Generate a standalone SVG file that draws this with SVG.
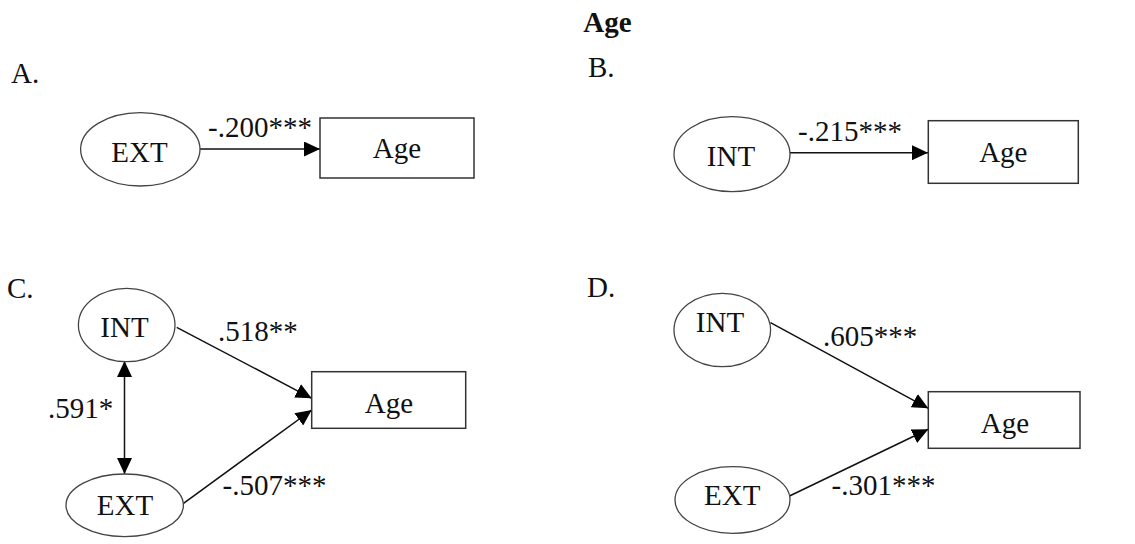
<svg xmlns="http://www.w3.org/2000/svg" width="1135" height="544" viewBox="0 0 1135 544">
  <style>
    text { font-family: "Liberation Serif", "Times New Roman", serif; font-size: 29px; fill: #111; }
    .title { font-weight: bold; }
    .mid { text-anchor: middle; }
    .node ellipse { fill: #fff; stroke: #444; stroke-width: 1.3; }
    .node rect { fill: #fff; stroke: #333; stroke-width: 1.5; }
    .edge { fill: none; stroke: #111; stroke-width: 1.5; }
  </style>
  <defs>
    <marker id="head" viewBox="0 0 16 15" refX="16" refY="7.5" markerWidth="16" markerHeight="15" markerUnits="userSpaceOnUse" orient="auto-start-reverse">
      <path d="M0,0 L16,7.5 L0,15 Z" fill="#000"/>
    </marker>
  </defs>
  <rect width="1135" height="544" fill="#fff"/>

  <!-- headings -->
  <text class="title mid" x="607.5" y="32">Age</text>
  <text x="11" y="83">A.</text>
  <text x="588" y="77">B.</text>
  <text x="7" y="298">C.</text>
  <text x="587" y="297">D.</text>

  <!-- connectors -->
  <g id="connectors">
    <line class="edge" x1="200" y1="149" x2="320" y2="149" marker-end="url(#head)"/>
    <line class="edge" x1="790" y1="152.7" x2="928" y2="152.7" marker-end="url(#head)"/>
    <line class="edge" x1="124.5" y1="361" x2="124.5" y2="474" marker-start="url(#head)" marker-end="url(#head)"/>
    <line class="edge" x1="176.7" y1="327.3" x2="311.7" y2="398.3" marker-end="url(#head)"/>
    <line class="edge" x1="183.5" y1="503.3" x2="311.7" y2="410" marker-end="url(#head)"/>
    <line class="edge" x1="770.5" y1="322.7" x2="928.3" y2="408.3" marker-end="url(#head)"/>
    <line class="edge" x1="789.5" y1="496" x2="928.3" y2="429.3" marker-end="url(#head)"/>
  </g>

  <!-- connector labels -->
  <g id="labels">
    <text x="208" y="137">-.200***</text>
    <text x="798" y="141">-.215***</text>
    <text x="48" y="418">.591*</text>
    <text x="218" y="341">.518**</text>
    <text x="222.5" y="495">-.507***</text>
    <text x="823" y="346">.605***</text>
    <text x="831.5" y="495">-.301***</text>
  </g>

  <!-- panel A -->
  <g id="a-ext" class="node">
    <ellipse cx="140.3" cy="149.3" rx="59.7" ry="36.7"/>
    <text class="mid" x="139.5" y="162">EXT</text>
  </g>
  <g id="a-age" class="node">
    <rect x="320" y="118" width="154" height="60"/>
    <text class="mid" x="397" y="158">Age</text>
  </g>

  <!-- panel B -->
  <g id="b-int" class="node">
    <ellipse cx="732" cy="154.2" rx="58" ry="37.5"/>
    <text class="mid" x="731" y="165.5">INT</text>
  </g>
  <g id="b-age" class="node">
    <rect x="928.3" y="120.7" width="150" height="62.6"/>
    <text class="mid" x="1003.3" y="161.7">Age</text>
  </g>

  <!-- panel C -->
  <g id="c-int" class="node">
    <ellipse cx="126.7" cy="325" rx="48.3" ry="36.7"/>
    <text class="mid" x="124.5" y="336.5">INT</text>
  </g>
  <g id="c-ext" class="node">
    <ellipse cx="124.7" cy="505.3" rx="58.7" ry="31.3"/>
    <text class="mid" x="125" y="515">EXT</text>
  </g>
  <g id="c-age" class="node">
    <rect x="311.7" y="371.7" width="154" height="56.6"/>
    <text class="mid" x="389" y="413">Age</text>
  </g>

  <!-- panel D -->
  <g id="d-int" class="node">
    <ellipse cx="722.3" cy="330" rx="48.3" ry="36.7"/>
    <text class="mid" x="720" y="331.5">INT</text>
  </g>
  <g id="d-ext" class="node">
    <ellipse cx="732.5" cy="500" rx="57.5" ry="33.3"/>
    <text class="mid" x="732.3" y="505">EXT</text>
  </g>
  <g id="d-age" class="node">
    <rect x="928.3" y="391.7" width="151.7" height="56.6"/>
    <text class="mid" x="1005" y="433">Age</text>
  </g>
</svg>
